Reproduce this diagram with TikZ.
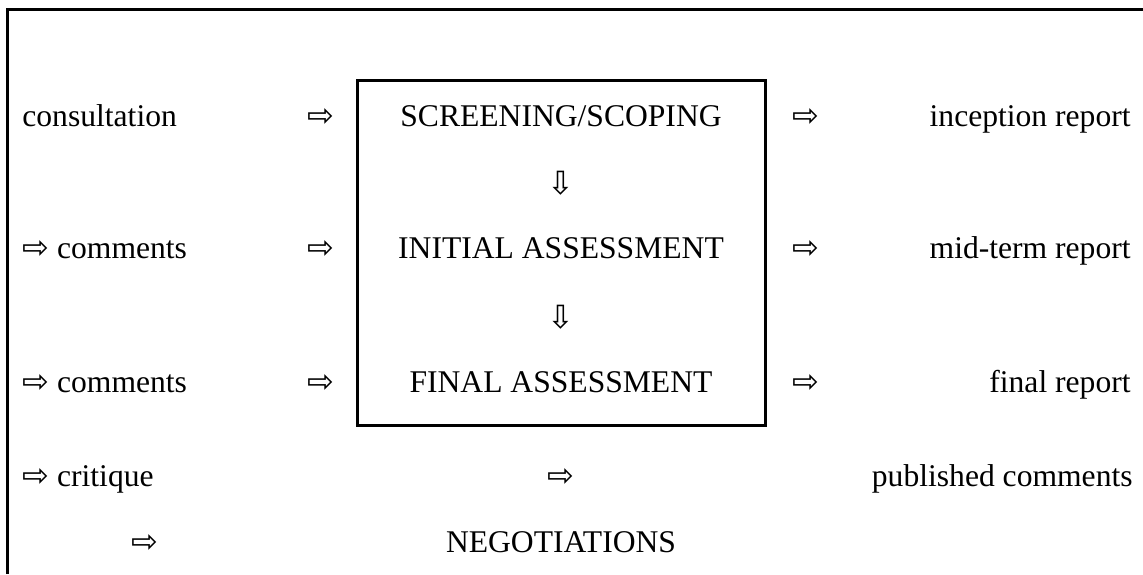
\documentclass[tikz,border=0pt]{standalone}
\usepackage{fontspec}
\setmainfont{Liberation Serif}
\newfontfamily\arrowfont{DejaVu Sans}
\usetikzlibrary{positioning}

\newcommand{\ra}{{\arrowfont\fontsize{16}{16}\selectfont ⇨}}
\newcommand{\da}{{\arrowfont\fontsize{16}{16}\selectfont ⇩}}

\tikzset{
  lbl/.style={inner sep=0pt,font=\fontsize{15.8}{18}\selectfont},
  frame/.style={line width=1.5pt}
}

\begin{document}
\begin{tikzpicture}[x=0.5pt,y=-0.5pt]
  \useasboundingbox (0,0) rectangle (1143,574);

  % frame and box
  \draw[frame] (7,574) |- (1143,9);
  \draw[frame] (357,80) rectangle (765,425);

  % left column
  \node[lbl,anchor=base west]	(consult)  at (22,126)  {consultation};
  \node[lbl,anchor=base west]	(comA)     at (22,258)  {\ra{} comments};
  \node[lbl,anchor=base west]	(comB)     at (22,392)  {\ra{} comments};
  \node[lbl,anchor=base west]	(critique) at (22,486)  {\ra{} critique};
  \node[lbl,anchor=base]	(inA)      at (321,126) {\ra};
  \node[lbl,anchor=base]	(inB)      at (321,258) {\ra};
  \node[lbl,anchor=base]	(inC)      at (321,392) {\ra};
  \node[lbl,anchor=base]	(neg)      at (145,552) {\ra};

  % stages
  \node[lbl,anchor=base]	(screen)   at (561,126) {SCREENING/SCOPING};
  \node[lbl,anchor=base]	(downA)    at (561,194) {\da};
  \node[lbl,anchor=base]	(initial)  at (561,258) {INITIAL ASSESSMENT};
  \node[lbl,anchor=base]	(downB)    at (561,328) {\da};
  \node[lbl,anchor=base]	(final)    at (561,392) {FINAL ASSESSMENT};
  \node[lbl,anchor=base]	(pub)      at (561,486) {\ra};
  \node[lbl,anchor=base]	(negot)    at (561,552) {NEGOTIATIONS};

  % right column
  \node[lbl,anchor=base]	(outA)     at (806,126) {\ra};
  \node[lbl,anchor=base]	(outB)     at (806,258) {\ra};
  \node[lbl,anchor=base]	(outC)     at (806,392) {\ra};
  \node[lbl,anchor=base east]	(incept)   at (1131,126) {inception report};
  \node[lbl,anchor=base east]	(midterm)  at (1131,258) {mid-term report};
  \node[lbl,anchor=base east]	(freport)  at (1131,392) {final report};
  \node[lbl,anchor=base east]	(pubcom)   at (1133,486) {published comments};
\end{tikzpicture}
\end{document}
